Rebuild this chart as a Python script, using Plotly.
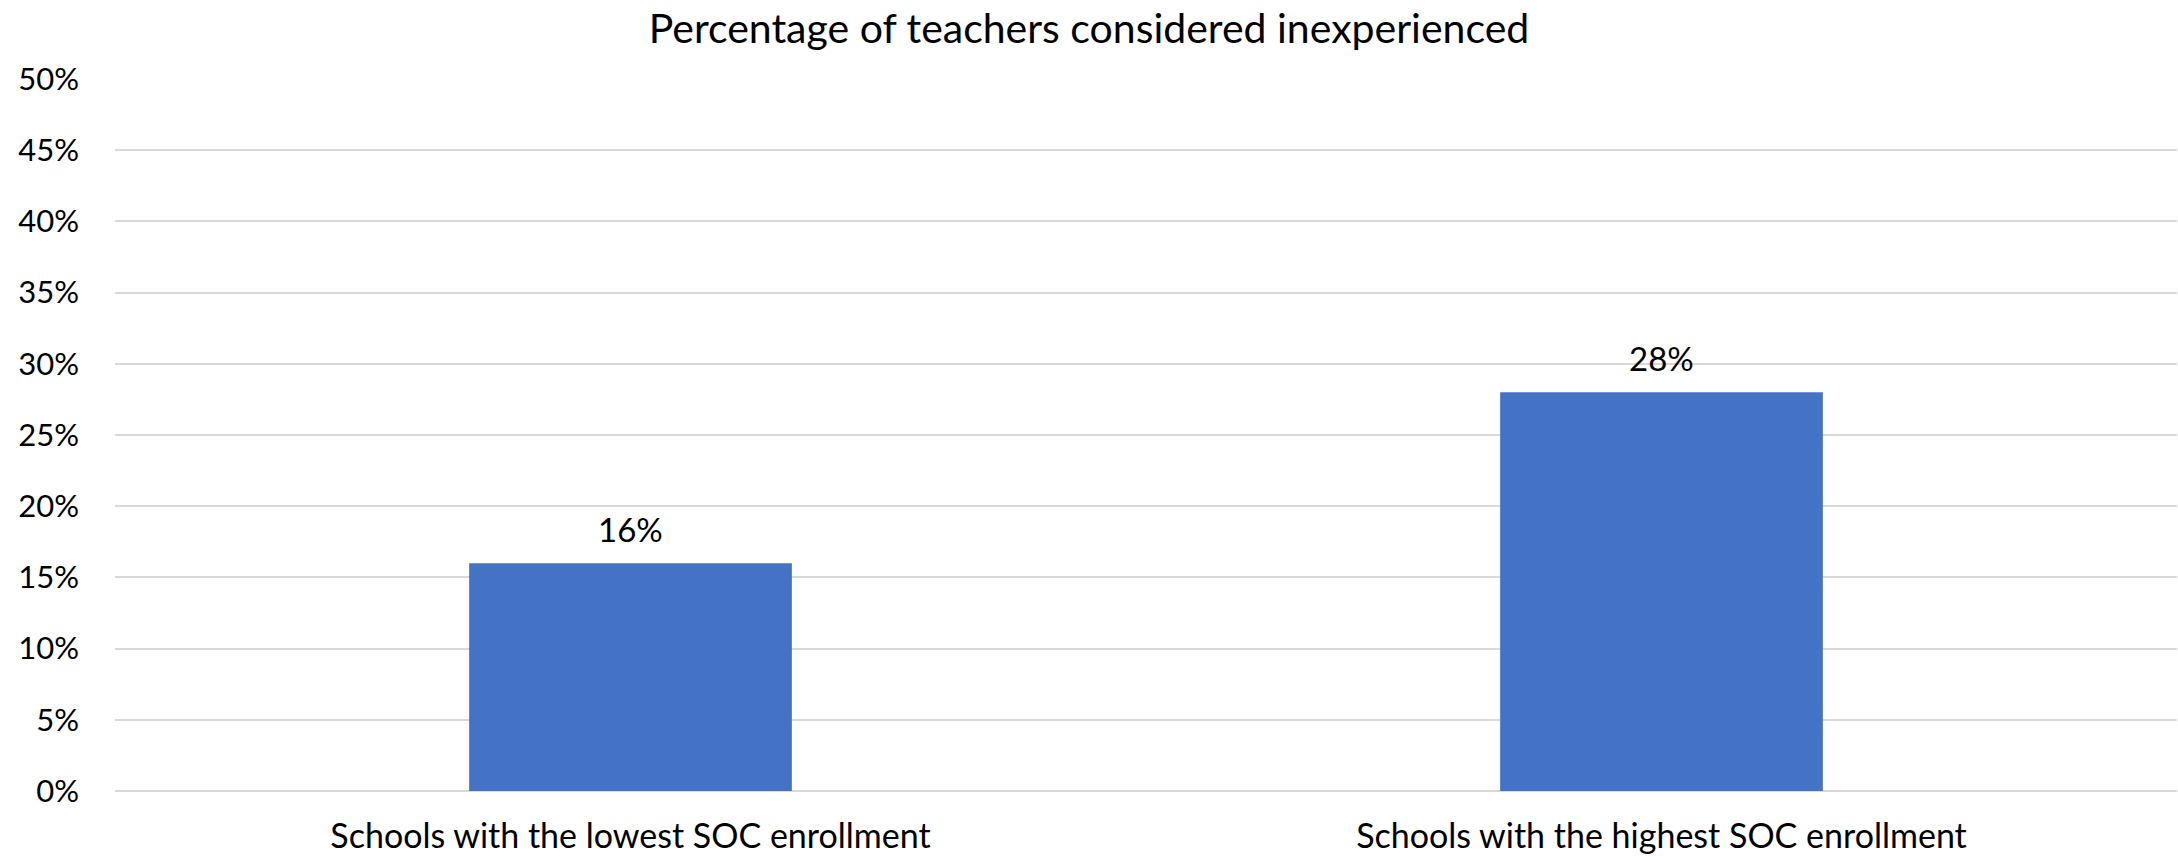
import plotly.graph_objects as go

categories = ["Schools with the lowest SOC enrollment", "Schools with the highest SOC enrollment"]
values = [0.16, 0.28]
labels = ["16%", "28%"]
title = "Percentage of teachers considered inexperienced"

FONT = "Lato"
fig = go.Figure()
fig.add_trace(go.Bar(
    x=categories, y=values, width=0.313,
    marker=dict(color="#4472C4", line=dict(width=0)),
    hoverinfo="x+y",
))
for c, v, t in zip(categories, values, labels):
    fig.add_annotation(x=c, y=v, text=t, showarrow=False, yanchor="middle", yshift=34,
                       font=dict(family=FONT, size=33, color="#000000"))
fig.update_layout(
    width=2178, height=857,
    margin=dict(l=115, r=1, t=79, b=66),
    paper_bgcolor="white", plot_bgcolor="white",
    showlegend=False,
    font=dict(family=FONT, color="#000000"),
    title=dict(text=title, x=0.5, xanchor="center", y=1 - 29/857, yanchor="middle",
               font=dict(family=FONT, size=41, color="#000000")),
    xaxis=dict(range=[-0.5, 1.5], showgrid=False, showline=False, ticks="",
               ticklabelstandoff=22,
               tickfont=dict(family=FONT, size=34, color="#000000")),
    yaxis=dict(range=[0, 0.5], dtick=0.05, tickformat=".0%", showgrid=True,
               gridcolor="#d9d9d9", gridwidth=2, zeroline=True, zerolinecolor="#d9d9d9",
               zerolinewidth=2, showline=False, ticks="", ticklabelstandoff=35,
               tickfont=dict(family=FONT, size=31, color="#000000")),
)
fig.write_html("out.html", config={"displayModeBar": False},
               post_script="document.body.style.margin='0';document.body.style.overflow='hidden';")
